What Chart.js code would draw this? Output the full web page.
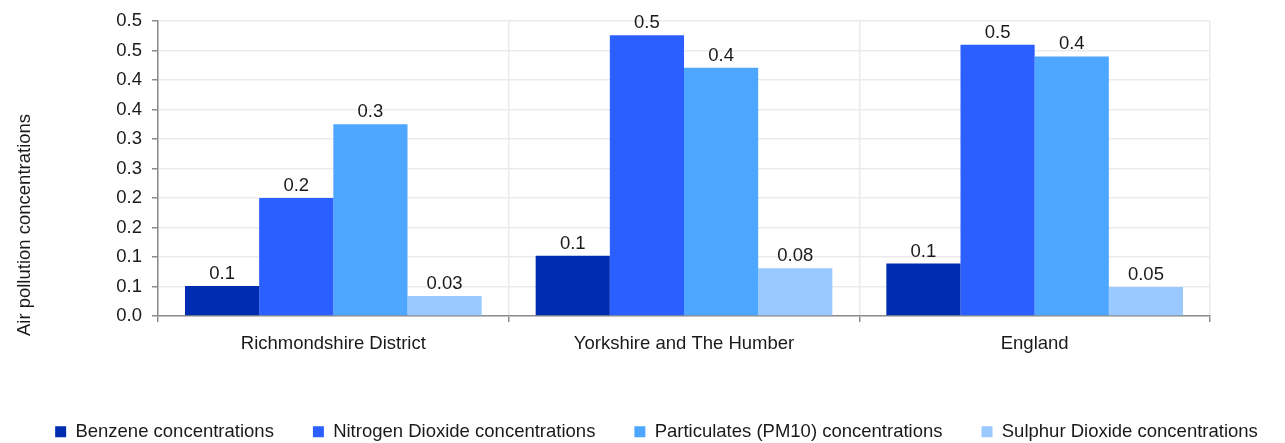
<!DOCTYPE html>
<html>
<head>
<meta charset="utf-8">
<script src="https://cdn.jsdelivr.net/npm/chart.js@4/dist/chart.umd.min.js"></script>
<style>
  html, body { margin: 0; padding: 0; background: #ffffff; }
  #wrap { width: 1285px; height: 443px; position: relative; }
</style>
</head>
<body>
<div id="wrap"><canvas id="c"></canvas></div>
<script>
const categories = ['Richmondshire District', 'Yorkshire and The Humber', 'England'];
const seriesNames = ['Benzene concentrations', 'Nitrogen Dioxide concentrations', 'Particulates (PM10) concentrations', 'Sulphur Dioxide concentrations'];
const benzene = [0.051, 0.102, 0.089];
const nitrogenDioxide = [0.200, 0.476, 0.460];
const particulates = [0.325, 0.421, 0.440];
const sulphurDioxide = [0.034, 0.081, 0.049];
const labelDecimals = [1, 1, 1, 2];
const yTickLabels = ['0.0', '0.1', '0.1', '0.2', '0.2', '0.3', '0.3', '0.4', '0.4', '0.5', '0.5'];
const yTitle = 'Air pollution concentrations';
const colors = ['#002db0', '#2c5fff', '#4da6ff', '#99c9ff'];

const FONT = '"Liberation Sans", Arial, Helvetica, sans-serif';
const FS = 18.5;
const seriesValues = [benzene, nitrogenDioxide, particulates, sulphurDioxide];

const valueLabels = {
  id: 'valueLabels',
  afterDatasetsDraw(chart) {
    const ctx = chart.ctx;
    ctx.save();
    ctx.font = FS + 'px ' + FONT;
    ctx.fillStyle = '#1a1a1a';
    ctx.textAlign = 'center';
    ctx.textBaseline = 'alphabetic';
    chart.data.datasets.forEach((ds, di) => {
      const meta = chart.getDatasetMeta(di);
      meta.data.forEach((bar, i) => {
        ctx.fillText(ds.data[i].toFixed(labelDecimals[di]), bar.x, bar.y - 7);
      });
    });
    ctx.restore();
  }
};

const yTitlePlugin = {
  id: 'yTitlePlugin',
  afterDraw(chart) {
    const ctx = chart.ctx;
    ctx.save();
    ctx.font = FS + 'px ' + FONT;
    ctx.fillStyle = '#1a1a1a';
    ctx.textAlign = 'center';
    ctx.textBaseline = 'middle';
    ctx.translate(25, 225);
    ctx.rotate(-Math.PI / 2);
    ctx.fillText(yTitle, 0, 0);
    ctx.restore();
  }
};

const legendShift = {
  id: 'legendShift',
  afterLayout(chart) {
    if (chart.legend) {
      chart.legend.top += 8;
      chart.legend.bottom += 8;
      chart.legend.left += 14;
      chart.legend.right += 14;
    }
  }
};

new Chart(document.getElementById('c'), {
  type: 'bar',
  data: {
    labels: categories,
    datasets: seriesNames.map((name, i) => ({
      label: name,
      data: seriesValues[i],
      backgroundColor: colors[i],
      borderWidth: 0,
      barPercentage: 1.0,
      categoryPercentage: 0.846
    }))
  },
  options: {
    responsive: true,
    maintainAspectRatio: false,
    animation: false,
    devicePixelRatio: 1,
    layout: { padding: { left: 0, right: 0, top: 15, bottom: 0 } },
    plugins: {
      legend: {
        position: 'bottom',
        labels: {
          boxWidth: 11,
          boxHeight: 11,
          padding: 39,
          color: '#1a1a1a',
          font: { family: FONT, size: FS }
        }
      },
      tooltip: { enabled: false }
    },
    scales: {
      x: {
        grid: {
          display: true,
          offset: true,
          color: '#ebebeb',
          tickColor: '#8c8c8c',
          tickLength: 6,
          lineWidth: 1.5
        },
        border: { display: true, color: '#8c8c8c', width: 1.5 },
        ticks: {
          color: '#1a1a1a',
          padding: 11,
          autoSkip: false,
          maxRotation: 0,
          font: { family: FONT, size: FS }
        },
        afterFit(axis) { axis.height = 59.5; }
      },
      y: {
        min: 0,
        max: 0.5,
        grid: {
          color: '#ebebeb',
          tickColor: '#8c8c8c',
          tickLength: 6,
          lineWidth: 1.5
        },
        border: { display: true, color: '#8c8c8c', width: 1.5 },
        ticks: {
          stepSize: 0.05,
          autoSkip: false,
          color: '#1a1a1a',
          padding: 10,
          font: { family: FONT, size: FS },
          callback: (v, idx) => yTickLabels[idx]
        },
        afterFit(axis) { axis.width = 158; }
      },
      ySpacer: {
        type: 'linear',
        position: 'right',
        display: true,
        grid: { display: false, drawOnChartArea: false },
        border: { display: false },
        ticks: { display: false },
        afterFit(axis) { axis.width = 75; }
      }
    }
  },
  plugins: [valueLabels, yTitlePlugin, legendShift]
});
</script>
</body>
</html>
